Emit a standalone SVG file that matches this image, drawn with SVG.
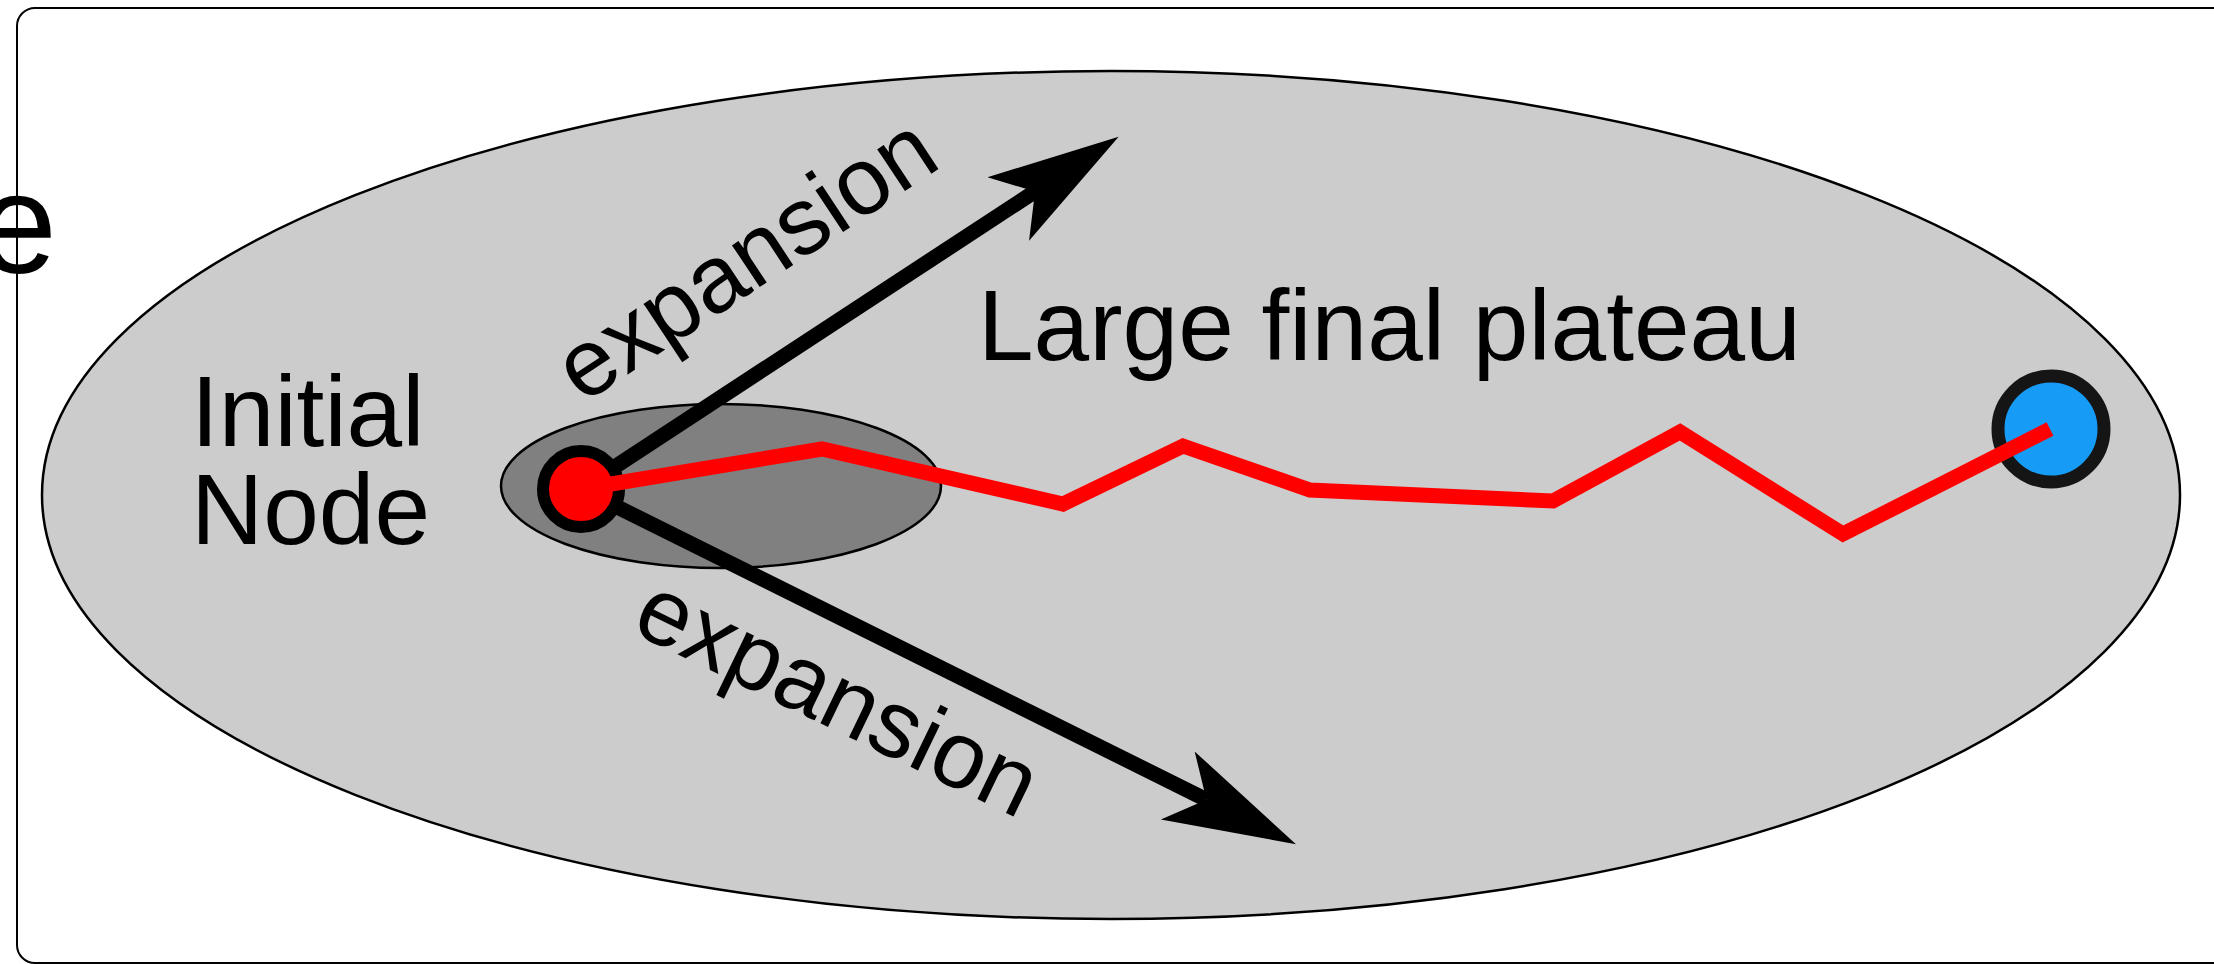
<svg xmlns="http://www.w3.org/2000/svg" width="2214" height="964" viewBox="0 0 2214 964">
<style>
text{font-family:"Liberation Sans",Arial,sans-serif;fill:#000}
.lbl{font-size:100px}
.exp{font-size:95px}
.shaft{stroke:#000;stroke-width:15;fill:none}
.path{stroke:#ff0000;stroke-width:15;fill:none;stroke-linejoin:miter;stroke-miterlimit:10}
</style>
<defs>
<marker id="ah" markerUnits="userSpaceOnUse" markerWidth="140" markerHeight="90" viewBox="0 -45 140 90" refX="32" refY="0" orient="auto">
<path d="M132,0 L0,-38 L32,0 L0,38 Z" fill="#000"/>
</marker>
</defs>
<rect x="17" y="8" width="2400" height="955" rx="18" ry="18" fill="#fff" stroke="#000" stroke-width="2"/>
<text x="57" y="273" text-anchor="end" style="font-size:142px">e</text>
<g id="plateau">
<ellipse cx="1111" cy="495" rx="1069" ry="424" fill="#cccccc" stroke="#000" stroke-width="2.5"/>
<text class="lbl" x="978" y="360">Large final plateau</text>
</g>
<g id="initial-region">
<ellipse cx="721" cy="486" rx="220" ry="82" fill="#808080" stroke="#000" stroke-width="2.5"/>
</g>
<g id="initial-label">
<text class="lbl" x="191" y="446">Initial</text>
<text class="lbl" x="191" y="544">Node</text>
</g>
<g id="connectors">
<line class="shaft" x1="581" y1="489" x2="1035" y2="191.5" marker-end="url(#ah)"/>
<line class="shaft" x1="581" y1="489" x2="1206.4" y2="799.7" marker-end="url(#ah)"/>
<text class="exp" text-anchor="middle" transform="translate(763,285) rotate(-33.5)">expansion</text>
<text class="exp" text-anchor="middle" transform="translate(824,725) rotate(25.8)">expansion</text>
</g>
<g id="initial-node">
<circle cx="581" cy="489" r="38" fill="#ff0000" stroke="#000" stroke-width="12"/>
</g>
<g id="final-node">
<circle cx="2051" cy="429" r="53" fill="#169cf6" stroke="#151515" stroke-width="13"/>
</g>
<g id="search-path">
<polyline class="path" points="581,489 822,449 1063,504 1183,446 1310,490 1553,501 1680,432 1843,534 2050,429"/>
</g>
</svg>
